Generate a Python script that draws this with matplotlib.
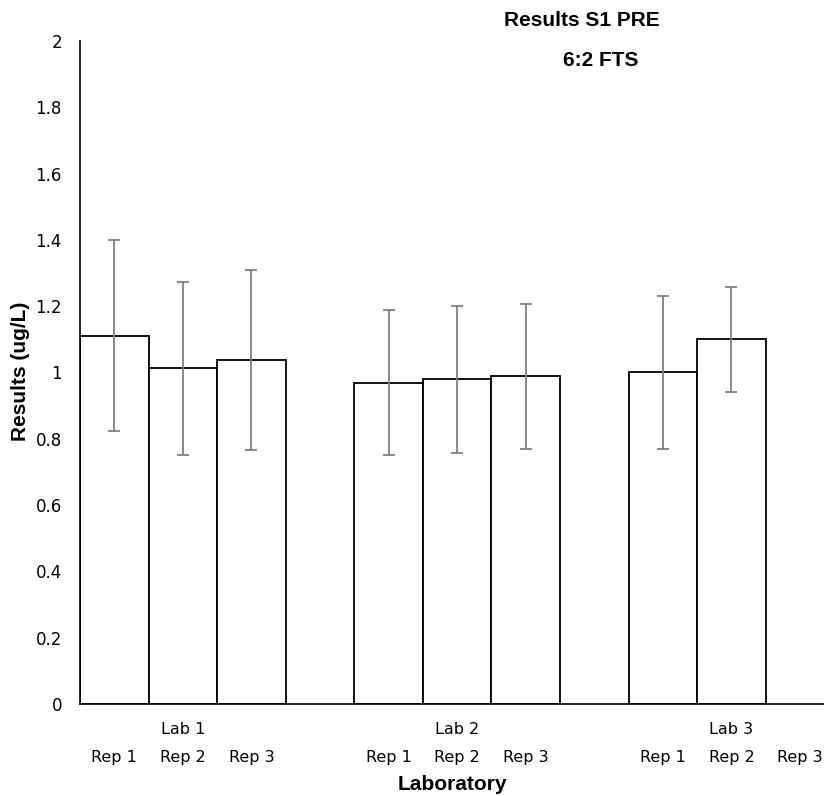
import numpy as np
import matplotlib

matplotlib.use('Agg')
import matplotlib.pyplot as plt
import matplotlib.transforms as mtransforms

# --- Data: mean result per replicate, with lower/upper error limits ---
labs = ['Lab 1', 'Lab 2', 'Lab 3']
reps = ['Rep 1', 'Rep 2', 'Rep 3']
lab1_vals = [1.11, 1.013, 1.039]
lab2_vals = [0.969, 0.979, 0.99]
lab3_vals = [1.0, 1.10, np.nan]
lab1_low = [0.822, 0.75, 0.767]
lab2_low = [0.75, 0.758, 0.77]
lab3_low = [0.77, 0.94, np.nan]
lab1_high = [1.40, 1.274, 1.309]
lab2_high = [1.189, 1.20, 1.207]
lab3_high = [1.231, 1.257, np.nan]

narrow = ['Liberation Sans Narrow', 'DejaVu Sans']
bold = ['Liberation Sans', 'DejaVu Sans']

fig = plt.figure(figsize=(8.24, 7.96), dpi=100)
ax = fig.add_axes([0.0971, 0.1156, 0.9029, 0.833])

groups = [
    (lab1_vals, lab1_low, lab1_high),
    (lab2_vals, lab2_low, lab2_high),
    (lab3_vals, lab3_low, lab3_high),
]

# each lab takes 3 slots plus one empty slot as a gap
positions = []
for g, (vals, low, high) in enumerate(groups):
    x = np.arange(3) + g * 4
    vals = np.array(vals)
    yerr = np.vstack([vals - np.array(low), np.array(high) - vals])
    ax.bar(x, vals, width=1.0, color='white', edgecolor='black', linewidth=1.3, zorder=2)
    ax.errorbar(x, vals, yerr=yerr, fmt='none', ecolor='#808080', elinewidth=1.3,
                capsize=4, capthick=1.3, zorder=3)
    positions.append(x)

ax.set_xlim(-0.5, 10.35)
ax.set_ylim(0, 2)
ax.set_yticks(np.arange(0, 2.01, 0.2))
ax.set_yticklabels(['0', '0.2', '0.4', '0.6', '0.8', '1', '1.2', '1.4', '1.6', '1.8', '2'])
ax.tick_params(axis='y', length=0, pad=13, labelsize=12)
for lbl in ax.get_yticklabels():
    lbl.set_family(narrow)
ax.set_xticks([])

for side in ['top', 'right']:
    ax.spines[side].set_visible(False)
ax.spines['left'].set_linewidth(1.2)
ax.spines['bottom'].set_linewidth(1.2)

# lab and replicate labels under the axis
trans = mtransforms.blended_transform_factory(ax.transData, ax.transAxes)
for g, x in enumerate(positions):
    ax.text(x[1], -0.039, labs[g], transform=trans, ha='center', va='center',
            fontsize=11.5, family=narrow)
    for i, xi in enumerate(x):
        ax.text(xi, -0.081, reps[i], transform=trans, ha='center', va='center',
                fontsize=11.5, family=narrow)

ax.text(0.5, -0.122, 'Laboratory', transform=ax.transAxes, ha='center', va='center',
        fontsize=15, fontweight='bold', family=bold)
fig.text(0.025, 0.534, 'Results (ug/L)', rotation=90, ha='center', va='center',
         fontsize=15, fontweight='bold', family=bold)

fig.text(582 / 824, 1 - 21 / 796, 'Results S1 PRE', ha='center', va='center',
         fontsize=15, fontweight='bold', family=bold)
fig.text(601 / 824, 1 - 61 / 796, '6:2 FTS', ha='center', va='center',
         fontsize=15, fontweight='bold', family=bold)

fig.savefig('out.png', dpi=100)
